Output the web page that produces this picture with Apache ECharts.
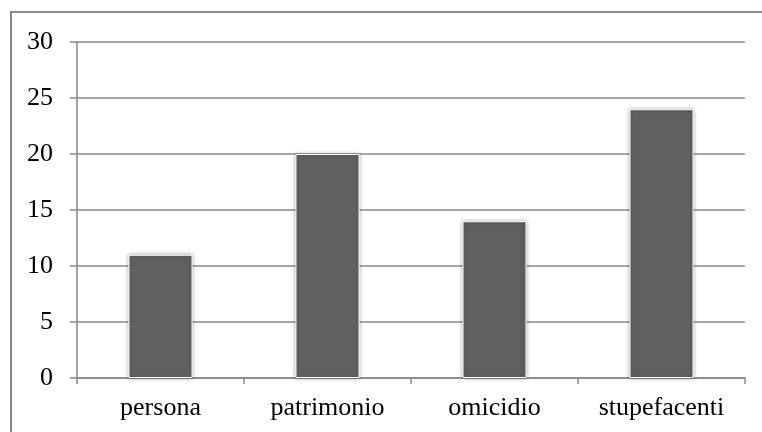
<!DOCTYPE html>
<html>
<head>
<meta charset="utf-8">
<script src="https://cdn.jsdelivr.net/npm/echarts@6/dist/echarts.min.js"></script>
<style>html,body{margin:0;padding:0;background:#fff;}#c{width:762px;height:432px;}</style>
</head>
<body>
<div id="c"></div>
<script>
const categories = ['persona', 'patrimonio', 'omicidio', 'stupefacenti'];
const values = [11, 20, 14, 24];
const yMin = 0, yMax = 30, yStep = 5;

const chart = echarts.init(document.getElementById('c'), null, {renderer: 'canvas'});
chart.setOption({
  animation: false,
  backgroundColor: '#fff',
  textStyle: {fontFamily: '"Liberation Serif", "Times New Roman", serif'},
  graphic: [{
    type: 'rect', z: 100, silent: true,
    shape: {x: 11, y: 12, width: 800, height: 500},
    style: {fill: 'none', stroke: '#888', lineWidth: 2}
  }],
  grid: {left: 77, top: 42, right: 17, bottom: 54},
  xAxis: {
    type: 'category', data: categories, boundaryGap: true,
    axisLine: {lineStyle: {color: '#888', width: 1.5}},
    axisTick: {show: true, length: 6, lineStyle: {color: '#888', width: 1.5}},
    axisLabel: {color: '#000', fontSize: 26, margin: 17, fontFamily: '"Liberation Serif", serif'}
  },
  yAxis: {
    type: 'value', min: yMin, max: yMax, interval: yStep,
    axisLine: {show: true, lineStyle: {color: '#888', width: 1.5}},
    axisTick: {show: true, length: 7, lineStyle: {color: '#888', width: 1.5}},
    splitLine: {show: true, lineStyle: {color: '#888', width: 1.5}},
    axisLabel: {color: '#000', fontSize: 26, margin: 24, fontFamily: '"Liberation Serif", serif'}
  },
  series: [{
    type: 'bar', data: values, barWidth: 64,
    itemStyle: {color: '#606060', borderColor: '#fff', borderWidth: 1,
      shadowBlur: 4, shadowColor: 'rgba(0,0,0,0.35)', shadowOffsetX: 0, shadowOffsetY: 0}
  }]
});
</script>
</body>
</html>
